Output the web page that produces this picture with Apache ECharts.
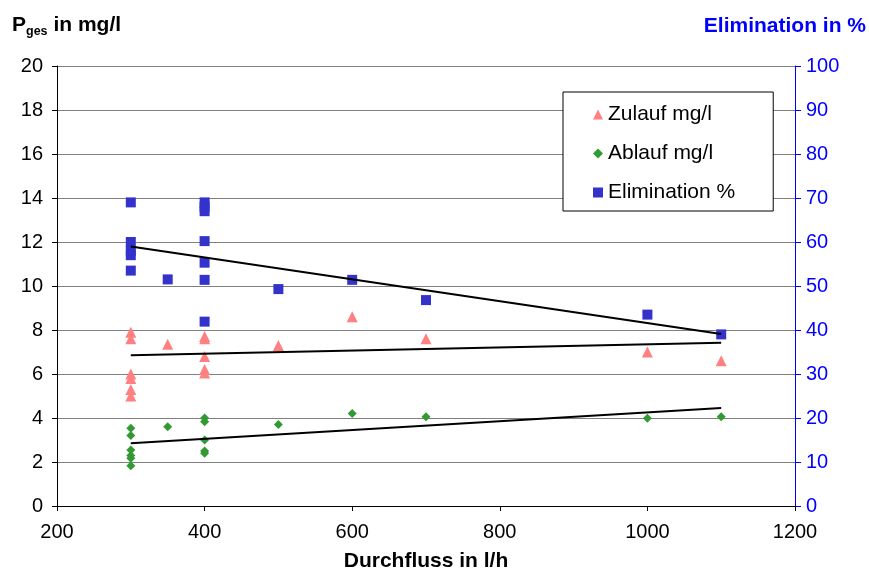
<!DOCTYPE html>
<html><head><meta charset="utf-8">
<script src="https://cdn.jsdelivr.net/npm/echarts@6/dist/echarts.min.js"></script>
<style>html,body{margin:0;padding:0;background:#fff}#c{width:869px;height:572px}</style>
</head><body><div id="c"></div>
<script>
// Data
const zulauf = [[300,7.9],[300,7.6],[300,6.0],[300,5.8],[300,5.3],[300,5.0],[350,7.35],[400,7.7],[400,7.6],[400,6.8],[400,6.2],[400,6.05],[500,7.3],[600,8.6],[700,7.6],[1000,7.0],[1100,6.6]];
const ablauf = [[300,3.53],[300,3.2],[300,2.55],[300,2.3],[300,2.17],[300,1.83],[350,3.6],[400,4.0],[400,3.83],[400,3.0],[400,2.5],[400,2.4],[500,3.7],[600,4.2],[700,4.06],[1000,3.99],[1100,4.06]];
const elimination = [[300,69],[300,60],[300,58],[300,57],[300,53.5],[350,51.5],[400,69],[400,68],[400,67],[400,60.2],[400,55.3],[400,51.4],[400,41.9],[500,49.3],[600,51.4],[700,46.8],[1000,43.5],[1100,39]];
const trendZulauf = [[300,6.85],[1100,7.42]];
const trendAblauf = [[300,2.85],[1100,4.45]];
const trendElim = [[300,59],[1100,39.1]];
const seriesNames = ['Zulauf mg/l','Ablauf mg/l','Elimination %'];

const F = 'Liberation Sans, Arial, sans-serif';
const FS = 20;
const chart = echarts.init(document.getElementById('c'));
chart.setOption({
  animation:false,
  backgroundColor:'#fff',
  grid:{left:57,right:74,top:66,bottom:66,containLabel:false,outerBoundsMode:'none'},
  graphic:[
    {type:'text',left:12,top:15,style:{rich:{b:{fontFamily:F,fontWeight:'bold',fontSize:21,fill:'#000'},s:{fontFamily:F,fontWeight:'bold',fontSize:12.5,fill:'#000',padding:[12,0,0,0]}},text:'{b|P}{s|ges}{b| in mg/l}',fontFamily:F}},
    {type:'text',right:3,top:16,style:{text:'Elimination in %',fontFamily:F,fontWeight:'bold',fontSize:21,fill:'#0000ff'}}
  ],
  legend:{
    data:[{name:seriesNames[0],icon:'triangle'},{name:seriesNames[1],icon:'diamond'},{name:seriesNames[2],icon:'rect'}],
    orient:'vertical',left:563,top:92,
    itemWidth:10,itemHeight:10,itemGap:18,
    padding:[12,38,8,30],
    borderColor:'#000',borderWidth:1,backgroundColor:'#fff',
    textStyle:{fontFamily:F,fontSize:21,lineHeight:20,color:'#000'}
  },
  xAxis:{type:'value',min:200,max:1200,interval:200,
    name:'Durchfluss in l/h',nameLocation:'middle',nameGap:45,
    nameTextStyle:{fontFamily:F,fontWeight:'bold',fontSize:21,color:'#000'},
    axisLine:{lineStyle:{color:'#000'}},axisTick:{show:true,length:5,lineStyle:{color:'#000'}},
    axisLabel:{fontFamily:F,fontSize:FS,color:'#000',margin:16,formatter:v=>String(v)},
    splitLine:{show:false}},
  yAxis:[
    {type:'value',min:0,max:20,interval:2,position:'left',
     axisLine:{show:true,lineStyle:{color:'#000'}},axisTick:{show:true,length:5,lineStyle:{color:'#000'}},
     axisLabel:{fontFamily:F,fontSize:FS,color:'#000',margin:14},
     splitLine:{show:true,lineStyle:{color:'#808080',width:1}}},
    {type:'value',min:0,max:100,interval:10,position:'right',
     axisLine:{show:true,lineStyle:{color:'#0000ff'}},axisTick:{show:true,length:6,lineStyle:{color:'#0000ff'}},
     axisLabel:{fontFamily:F,fontSize:FS,color:'#0000ff',margin:11},
     splitLine:{show:false}}
  ],
  series:[
    {name:seriesNames[0],type:'scatter',symbol:'triangle',symbolSize:11,data:zulauf,itemStyle:{color:'#ff8080',opacity:1},z:3},
    {name:seriesNames[1],type:'scatter',symbol:'diamond',symbolSize:9,data:ablauf,itemStyle:{color:'#339933',opacity:1},z:3},
    {name:seriesNames[2],type:'scatter',symbol:'rect',symbolSize:10,yAxisIndex:1,data:elimination,itemStyle:{color:'#3333cc',opacity:1},z:3},
    {name:'tz',type:'line',data:trendZulauf,symbol:'none',lineStyle:{color:'#000',width:2},z:4},
    {name:'ta',type:'line',data:trendAblauf,symbol:'none',lineStyle:{color:'#000',width:2},z:4},
    {name:'te',type:'line',yAxisIndex:1,data:trendElim,symbol:'none',lineStyle:{color:'#000',width:2},z:4}
  ]
});
</script></body></html>
